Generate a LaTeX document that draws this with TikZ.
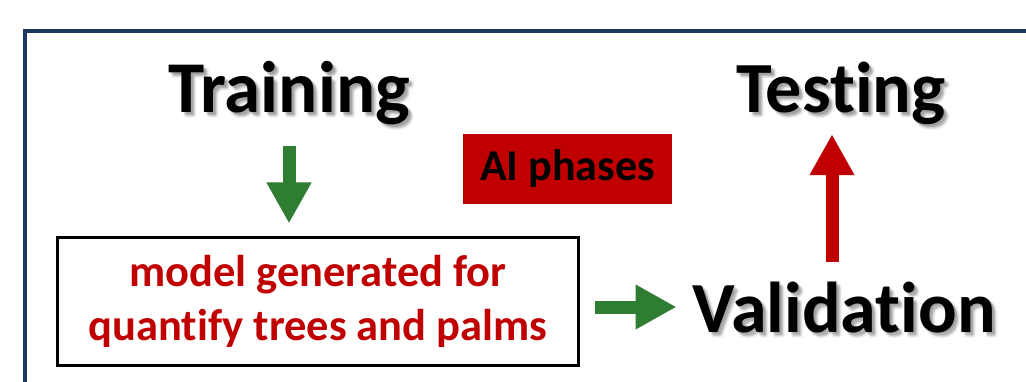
\documentclass[tikz,border=0pt]{standalone}
\usepackage{fontspec}
\setmainfont[Ligatures=NoCommon]{Carlito}
\usetikzlibrary{arrows.meta,calc}
\definecolor{frameblue}{HTML}{1F3A5F}
\definecolor{darkred}{HTML}{C00000}
\definecolor{arrowgreen}{RGB}{47,125,50}
\newcommand{\shadowtext}[3]{% position, font size, text
  \foreach \dx/\dy/\op in {2/2/0.10,3/3/0.09,4/4/0.07,3/5/0.05,5/3/0.05,4/6/0.03,6/5/0.03}{
    \node[title, text=black, opacity=\op] at ($#1+(\dx,\dy)$) {\fontsize{#2}{#2}\selectfont\bfseries #3};
  }
}
\begin{document}
\begin{tikzpicture}[x=1pt,y=-1pt,
  title/.style={anchor=base, inner sep=0pt, outer sep=0pt},
  blockarrow/.style={line width=13pt, -{Triangle[width=42pt,length=41pt]}},
  greenarrow/.style={blockarrow, draw=arrowgreen, arrowgreen},
  redarrow/.style={blockarrow, draw=darkred, darkred},
  modelbox/.style={draw=black, line width=3pt, fill=white, minimum width=521pt,
    minimum height=128pt, inner sep=0pt, outer sep=0pt, align=center,
    text=darkred, font=\fontsize{44.5}{54}\selectfont\bfseries},
  phasebox/.style={fill=darkred, minimum width=209pt, minimum height=70pt,
    inner sep=0pt, font=\fontsize{44}{44}\selectfont\bfseries}]
\useasboundingbox (0,0) rectangle (1026,382);
\clip (0,0) rectangle (1026,382);
\fill[white] (0,0) rectangle (1026,382);
% outer frame, running off the right and bottom edges
\draw[frameblue, line width=4pt] (25,31) rectangle (1040,400);

% titles with soft drop shadows
\shadowtext{(289,113)}{73}{Training}
\shadowtext{(841,113)}{72}{Testing}
\shadowtext{(844,332)}{72}{Validation}
\node[title] (train) at (289,113) {\fontsize{73}{73}\selectfont\bfseries Training};
\node[title] (test) at (841,113) {\fontsize{72}{72}\selectfont\bfseries Testing};
\node[title] (val) at (844,332) {\fontsize{72}{72}\selectfont\bfseries Validation};

\node[phasebox] (phases) at (567.5,169) {AI phases};
\node[modelbox] (model) at (318,301.5) {model generated for\\quantify trees and palms};

% connectors
\draw[greenarrow, shorten <=21pt, shorten >=14pt] (train.south) -- (train.south |- model.north);
\draw[greenarrow, shorten <=16pt, shorten >=16pt] (model.east |- val.west) -- (val.west);
\draw[redarrow, shorten <=19pt, shorten >=9pt]
  ($(test.south |- val.north)+(-9,0)$) -- ($(test.south)+(-9,0)$);
\end{tikzpicture}
\end{document}
